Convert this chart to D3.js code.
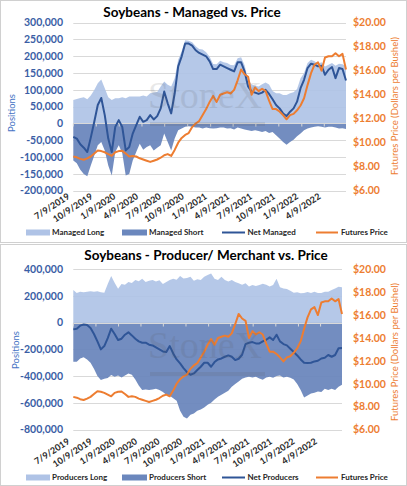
<!DOCTYPE html>
<html><head><meta charset="utf-8">
<script src="https://cdn.jsdelivr.net/npm/d3@7"></script>
<style>
body{margin:0;background:#fff}
svg{display:block}
text{font-family:Lato,"Open Sans",sans-serif}
</style>
</head><body>
<svg id="c" width="407" height="486"></svg>
<script>
// ---------- DATA (positions in thousands of contracts, price in $/bushel) ----------
const startDate = "7/9/2019";      // first weekly report shown (sampled every 2 weeks)
const stepDays = 14;
const xTickLabels = ["7/9/2019","10/9/2019","1/9/2020","4/9/2020","7/9/2020","10/9/2020",
  "1/9/2021","4/9/2021","7/9/2021","10/9/2021","1/9/2022","4/9/2022"];
const priceTicks = [6,8,10,12,14,16,18,20];
const managedTicks = [300000,250000,200000,150000,100000,50000,0,-50000,-100000,-150000,-200000];
const producerTicks = [400000,200000,0,-200000,-400000,-600000,-800000];

const futuresPrice = [8.85,8.78,8.65,8.58,8.7,8.85,9.1,9.35,9.3,9.2,
  9.05,8.9,9.2,9.3,9.32,9.1,8.85,8.9,8.85,8.7,
  8.6,8.5,8.4,8.5,8.6,8.75,8.95,9.05,8.9,9.4,
  10.0,10.4,10.65,10.8,11.3,11.6,11.8,12.3,12.8,13.4,
  13.9,13.4,14.0,14.1,14.2,14.1,14.4,15.2,16.1,15.7,
  15.5,14.0,14.6,14.3,14.5,14.3,13.5,12.8,12.8,12.6,
  12.3,11.95,12.3,12.4,12.7,13.1,13.7,14.8,15.8,16.5,
  16.7,16.0,17.1,17.2,17.2,17.45,17.2,17.4,16.1];

const managedLong = [70,73,76,78,72,83,100,120,131,105,
  78,70,75,75,78,75,80,80,80,80,
  83,80,90,92,94,110,125,115,110,135,
  190,215,248,246,242,230,222,220,212,199,
  177,176,187,182,180,174,173,194,197,173,
  130,117,112,110,117,122,116,97,90,90,
  85,85,90,93,103,135,150,180,190,185,
  178,182,170,175,180,172,178,176,170];
const managedShort = [-110,-118,-138,-150,-157,-125,-95,-65,-55,-80,
  -125,-155,-85,-65,-88,-155,-150,-110,-85,-60,
  -78,-70,-65,-80,-72,-65,-30,-55,-80,-45,
  -20,-15,-10,-8,-10,-12,-12,-15,-12,-14,
  -15,-14,-12,-12,-15,-14,-18,-12,-15,-18,
  -20,-22,-20,-22,-25,-22,-28,-25,-35,-45,
  -55,-63,-55,-48,-38,-30,-20,-15,-12,-10,
  -8,-10,-12,-10,-10,-12,-15,-14,-16];
const netManaged = [-40,-45,-62,-72,-85,-42,5,55,76,25,
  -45,-85,-10,10,-10,-80,-70,-30,-5,20,
  5,10,25,12,22,45,95,60,30,90,
  170,200,238,238,232,218,210,205,200,185,
  162,162,175,170,165,160,155,182,182,155,
  110,95,92,88,92,100,88,72,55,45,
  30,22,35,45,65,105,130,165,178,175,
  170,172,145,160,168,135,165,162,128];

const producersLong = [245,222,232,228,232,236,232,236,228,225,
  290,350,300,255,290,285,305,298,320,310,
  330,305,315,320,308,318,290,305,320,330,
  322,350,332,335,345,315,325,320,345,357,
  368,330,320,345,320,308,320,305,295,285,
  295,272,282,275,282,292,285,272,282,330,
  265,257,252,240,225,228,220,222,230,222,
  232,222,222,232,232,245,257,270,266];
const producersShort = [-292,-292,-268,-258,-275,-300,-345,-400,-430,-420,
  -415,-392,-405,-395,-410,-395,-380,-390,-425,-470,
  -505,-500,-505,-500,-495,-505,-520,-540,-548,-565,
  -585,-660,-705,-718,-690,-680,-660,-650,-635,-615,
  -600,-575,-555,-540,-525,-510,-480,-460,-440,-420,
  -410,-405,-410,-405,-418,-428,-410,-405,-412,-400,
  -395,-410,-405,-412,-425,-460,-505,-560,-545,-530,
  -525,-515,-520,-495,-505,-495,-505,-480,-465];
const netProducers = [-50,-45,-22,-14,-18,-40,-85,-140,-200,-175,
  -115,-45,-85,-130,-120,-90,-72,-95,-120,-140,
  -150,-150,-165,-170,-185,-200,-215,-220,-175,-230,
  -275,-305,-340,-370,-390,-380,-355,-330,-300,-300,
  -330,-295,-275,-268,-255,-245,-255,-280,-270,-240,
  -160,-150,-145,-155,-155,-140,-128,-110,-130,-90,
  -140,-160,-170,-195,-220,-245,-275,-300,-302,-300,
  -290,-285,-268,-262,-242,-255,-242,-192,-190];

// ---------- RENDER ----------
const parseD = d3.timeParse("%m/%d/%Y");
const t0 = parseD(startDate);
const dates = futuresPrice.map((_, i) => d3.timeDay.offset(t0, stepDays * i));
const tickDates = xTickLabels.map(parseD);
const loc = d3.formatLocale({decimal:".", thousands:",", grouping:[3], currency:["$",""], minus:"-"});
const fmtPos = loc.format(",");
const fmtPrice = loc.format("$.2f");

const svg = d3.select("#c");
svg.append("rect").attr("width",407).attr("height",486).attr("fill","#fff");

const C = {
  light: "#AFC3E6", dark: "#6B87BD", net: "#2F5597", price: "#ED7D31",
  grid: "#D9D9D9", axisBlue: "#3A5EA5", posLabel: "#4472C4", text: "#262626"
};

function panel(cfg) {
  const g = svg.append("g");
  const x = d3.scaleTime().domain([dates[0], dates[dates.length - 1]]).range(cfg.xRange);
  const y = d3.scaleLinear().domain(cfg.yDomain).range(cfg.yRange);
  const yR = d3.scaleLinear().domain([6, 20]).range(cfg.yRange);

  // frame
  g.append("rect").attr("x", cfg.frame[0]).attr("y", cfg.frame[1])
    .attr("width", cfg.frame[2]).attr("height", cfg.frame[3])
    .attr("fill", "none").attr("stroke", "#D0D0D0").attr("stroke-width", 1);

  // gridlines
  g.selectAll("line.grid").data(cfg.yTicks).join("line").attr("class", "grid")
    .attr("x1", cfg.xRange[0]).attr("x2", cfg.xRange[1])
    .attr("y1", d => Math.round(y(d)) + 0.5).attr("y2", d => Math.round(y(d)) + 0.5)
    .attr("stroke", C.grid).attr("stroke-width", 1);

  // areas
  const area = d3.area().x((d, i) => x(dates[i])).y0(y(0)).y1(d => y(d * 1000));
  g.append("path").datum(cfg.long).attr("d", area).attr("fill", C.light).attr("fill-opacity", 0.92);
  g.append("path").datum(cfg.short).attr("d", area).attr("fill", C.dark).attr("fill-opacity", 0.95);

  // category axis at zero
  const y0 = Math.round(y(0)) + 0.5;
  g.append("line").attr("x1", cfg.xRange[0]).attr("x2", cfg.xRange[1])
    .attr("y1", y0).attr("y2", y0).attr("stroke", "#D9D9D9").attr("stroke-width", 1);
  g.selectAll("line.tk").data(tickDates).join("line").attr("class", "tk")
    .attr("x1", d => x(d)).attr("x2", d => x(d)).attr("y1", y0).attr("y2", y0 + 3)
    .attr("stroke", "#D9D9D9");

  // lines
  const line = d3.line().x((d, i) => x(dates[i])).y(d => y(d * 1000));
  g.append("path").datum(cfg.net).attr("d", line).attr("fill", "none")
    .attr("stroke", C.net).attr("stroke-width", 2).attr("stroke-linejoin", "round");
  const pline = d3.line().x((d, i) => x(dates[i])).y(d => yR(d));
  g.append("path").datum(futuresPrice).attr("d", pline).attr("fill", "none")
    .attr("stroke", C.price).attr("stroke-width", 2).attr("stroke-linejoin", "round");

  // watermark
  const wm = g.append("g").attr("opacity", 0.13);
  wm.append("text").attr("x", cfg.wm[0]).attr("y", cfg.wm[1])
    .style("font-family", "'Liberation Serif','DejaVu Serif',serif").style("font-size", "38px")
    .attr("fill", "#555").text("StoneX");
  wm.append("rect").attr("x", cfg.wm[0] + 2).attr("y", cfg.wm[1] + 14).attr("width", 115).attr("height", 4).attr("fill", "#555");

  // left tick labels
  g.selectAll("text.yl").data(cfg.yTicks).join("text").attr("class", "yl")
    .attr("x", 63).attr("y", d => y(d)).attr("dy", "0.36em").attr("text-anchor", "end")
    .attr("fill", C.axisBlue).style("font-size", "10.5px").style("font-weight", "bold")
    .text(d => fmtPos(d));
  // right tick labels
  g.selectAll("text.yr").data(priceTicks).join("text").attr("class", "yr")
    .attr("x", 353).attr("y", d => yR(d)).attr("dy", "0.36em")
    .attr("fill", C.price).style("font-size", "10.5px").style("font-weight", "bold")
    .text(d => fmtPrice(d));
  // x tick labels
  g.selectAll("text.xl").data(tickDates).join("text").attr("class", "xl")
    .attr("transform", d => `translate(${x(d) - 3},${cfg.xLabelY}) rotate(-33)`)
    .attr("text-anchor", "end").attr("fill", C.text)
    .style("font-size", "9px").style("font-weight", "bold")
    .text((d, i) => xTickLabels[i]);

  // axis titles
  g.append("text").attr("transform", `translate(${cfg.posLabel[0]},${cfg.posLabel[1]}) rotate(-90)`)
    .attr("text-anchor", "middle").attr("fill", C.posLabel).style("font-size", "9.5px")
    .text("Positions");
  g.append("text").attr("transform", `translate(${cfg.priceLabel[0]},${cfg.priceLabel[1]}) rotate(-90)`)
    .attr("text-anchor", "middle").attr("fill", C.price).style("font-size", "9.5px")
    .text("Futures Price (Dollars per Bushel)");

  // title
  g.append("text").attr("x", cfg.title[1]).attr("y", cfg.title[2]).attr("text-anchor", "middle")
    .attr("fill", "#000").style("font-size", "13.5px").style("font-weight", "bold")
    .text(cfg.title[0]);

  // legend
  const ly = cfg.legendY;
  const lg = g.append("g").style("font-size", "8px").style("font-weight", "bold").attr("fill", C.text);
  lg.append("rect").attr("x", 26).attr("y", ly - 3).attr("width", 24).attr("height", 6).attr("fill", C.light);
  lg.append("text").attr("x", 52).attr("y", ly).attr("dy", "0.35em").text(cfg.legend[0]);
  lg.append("rect").attr("x", 122).attr("y", ly - 3).attr("width", 25).attr("height", 6).attr("fill", C.dark);
  lg.append("text").attr("x", 149).attr("y", ly).attr("dy", "0.35em").text(cfg.legend[1]);
  lg.append("line").attr("x1", 222).attr("x2", 245).attr("y1", ly).attr("y2", ly).attr("stroke", C.net).attr("stroke-width", 2);
  lg.append("text").attr("x", 247.5).attr("y", ly).attr("dy", "0.35em").text(cfg.legend[2]);
  lg.append("line").attr("x1", 316).attr("x2", 338).attr("y1", ly).attr("y2", ly).attr("stroke", C.price).attr("stroke-width", 2);
  lg.append("text").attr("x", 341).attr("y", ly).attr("dy", "0.35em").text("Futures Price");
}

panel({
  frame: [0.5, 0.5, 406, 242],
  xRange: [73.3, 346], yDomain: [-200000, 300000], yRange: [190.7, 22.7],
  yTicks: managedTicks, long: managedLong, short: managedShort, net: netManaged,
  title: ["Soybeans - Managed vs. Price", 192, 17],
  xLabelY: 198, legendY: 232.5,
  legend: ["Managed Long", "Managed Short", "Net Managed"],
  posLabel: [15, 113], priceLabel: [398, 106], wm: [148, 108]
});
panel({
  frame: [0.5, 244.5, 406, 241],
  xRange: [73.3, 342], yDomain: [-800000, 400000], yRange: [429.5, 269.3],
  yTicks: producerTicks, long: producersLong, short: producersShort, net: netProducers,
  title: ["Soybeans - Producer/ Merchant vs. Price", 206, 259.5],
  xLabelY: 443, legendY: 477.5,
  legend: ["Producers Long", "Producers Short", "Net Producers"],
  posLabel: [19, 350], priceLabel: [398, 352], wm: [148, 358]
});
</script>
</body></html>
